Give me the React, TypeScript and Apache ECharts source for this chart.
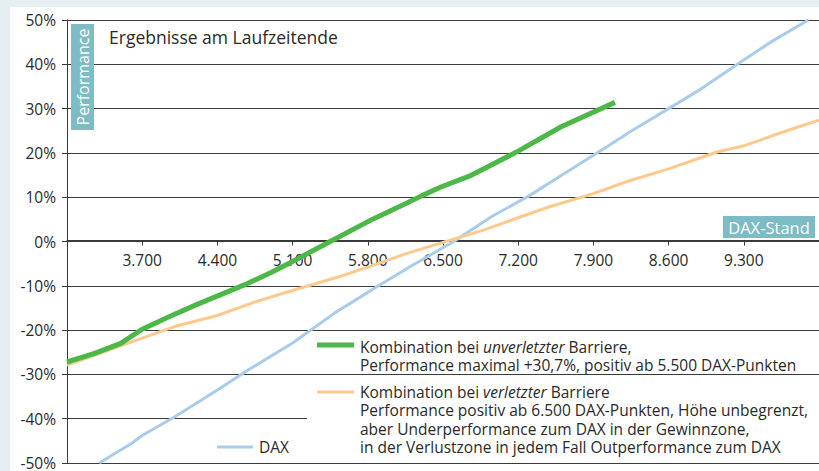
import React, { useEffect, useRef } from "react";
import * as echarts from "echarts";

// DAX level (x) vs. performance in % (y)
const unverletztData: [number, number][] = [
  [3000, -27.2], [3250, -25.3], [3500, -23.0], [3700, -19.8], [3950, -17.0],
  [4200, -14.3], [4420, -12.1], [4650, -9.8], [4900, -7.0], [5100, -4.5],
  [5450, 0.0], [5850, 5.1], [6150, 8.5], [6300, 10.3], [6480, 12.3],
  [6750, 14.8], [7200, 20.4], [7600, 25.9], [8100, 31.4],
];

const verletztData: [number, number][] = [
  [3000, -27.9], [3300, -25.3], [3700, -21.8], [4000, -19.2], [4400, -16.7],
  [4770, -13.5], [5230, -10.1], [5540, -7.9], [5800, -5.8], [6150, -2.8],
  [6500, -0.2], [6870, 2.5], [7190, 5.3], [7500, 7.9], [7900, 10.8],
  [8220, 13.6], [8600, 16.4], [9050, 20.2], [9300, 21.6], [9700, 25.0],
  [10000, 27.4],
];

const daxData: [number, number][] = [
  [3300, -50.0], [3600, -45.6], [3700, -43.8], [4000, -39.6], [4400, -33.5],
  [4700, -28.8], [5100, -22.9], [5500, -16.0], [5900, -10.0], [6200, -5.6],
  [6600, 0.0], [6950, 5.6], [7300, 10.3], [7700, 16.4], [8000, 21.0],
  [8250, 24.9], [8600, 30.0], [8900, 34.4], [9250, 40.2], [9550, 45.0],
  [9900, 50.0],
];

const xMin = 3000;
const xMax = 10000;
const xStep = 700;
const yMin = -50;
const yMax = 50;
const yStep = 10;

const titleText = "Ergebnisse am Laufzeitende";
const yAxisName = "Performance";
const xAxisName = "DAX-Stand";
const legendUnverletzt = [
  "Kombination bei {i|unverletzter} Barriere,",
  "Performance maximal +30,7%, positiv ab 5.500 DAX-Punkten",
];
const legendVerletzt = [
  "Kombination bei {i|verletzter} Barriere",
  "Performance positiv ab 6.500 DAX-Punkten, Höhe unbegrenzt,",
  "aber Underperformance zum DAX in der Gewinnzone,",
  "in der Verlustzone in jedem Fall Outperformance zum DAX",
];
const legendDax = "DAX";

const FONT = "'Open Sans', 'Noto Sans', sans-serif";
const GREEN = "#4cb848";
const ORANGE = "#fdc98c";
const BLUE = "#a9cced";
const TEAL = "#7dbbc5";
const TEXT = "#2a2a2a";
const LINE = "#3a3a3a";

// plot geometry
const GRID_TOP = 20;
const GRID_BOTTOM = 6;
const PLOT_H = 471 - GRID_TOP - GRID_BOTTOM;
const ZERO_OFFSET = -PLOT_H * ((0 - yMin) / (yMax - yMin));

const fmtThousands = (v: number) => {
  const s = Math.round(v).toString();
  return s.replace(/\B(?=(\d{3})+(?!\d))/g, ".");
};

export default function App() {
  const ref = useRef<HTMLDivElement>(null);

  useEffect(() => {
    if (!ref.current) return;
    const chart = echarts.init(ref.current, undefined, { renderer: "svg" });

    const LEG_FS = 15.5;
    const LEG_LH = 16;
    const richItalic = {
      i: {
        fontStyle: "italic",
        fontSize: LEG_FS,
        fontFamily: FONT,
        fill: TEXT,
        color: TEXT,
        lineHeight: LEG_LH,
      },
    };

    const legendTexts: any[] = [];
    legendUnverletzt.forEach((t, i) => {
      legendTexts.push({
        type: "text",
        x: 360,
        y: 347 + i * 18,
        z: 60,
        style: {
          text: t,
          fill: TEXT,
          font: `${LEG_FS}px ${FONT}`,
          lineHeight: LEG_LH,
          verticalAlign: "middle",
          rich: richItalic,
        },
      });
    });
    legendVerletzt.forEach((t, i) => {
      legendTexts.push({
        type: "text",
        x: 360,
        y: 392 + i * 18.3,
        z: 60,
        style: {
          text: t,
          fill: TEXT,
          font: `${LEG_FS}px ${FONT}`,
          lineHeight: LEG_LH,
          verticalAlign: "middle",
          rich: richItalic,
        },
      });
    });

    chart.setOption({
      animation: false,
      backgroundColor: "transparent",
      grid: { left: 67, right: 0, top: GRID_TOP, bottom: GRID_BOTTOM, containLabel: false },
      xAxis: {
        type: "value",
        min: xMin,
        max: xMax,
        interval: xStep,
        position: "bottom",
        offset: ZERO_OFFSET,
        axisLine: { show: true, onZero: false, lineStyle: { color: LINE, width: 1 } },
        axisTick: { show: true, length: 5, lineStyle: { color: LINE } },
        splitLine: { show: false },
        axisLabel: {
          showMinLabel: false,
          showMaxLabel: false,
          margin: 11,
          color: TEXT,
          fontSize: 15.5,
          fontFamily: FONT,
          formatter: (v: number) => (v <= xMin || v >= xMax ? "" : fmtThousands(v)),
        },
      },
      yAxis: {
        type: "value",
        min: yMin,
        max: yMax,
        interval: yStep,
        axisLine: { show: true, onZero: false, lineStyle: { color: LINE, width: 1 } },
        axisTick: { show: true, length: 5, lineStyle: { color: LINE } },
        splitLine: { show: true, lineStyle: { color: LINE, width: 1 } },
        axisLabel: {
          margin: 11,
          color: TEXT,
          fontSize: 15.5,
          fontFamily: FONT,
          formatter: (v: number) => `${v}%`,
        },
      },
      series: [
        {
          type: "line",
          data: daxData,
          showSymbol: false,
          lineStyle: { color: BLUE, width: 3 },
          z: 3,
        },
        {
          type: "line",
          data: verletztData,
          showSymbol: false,
          lineStyle: { color: ORANGE, width: 3 },
          z: 4,
        },
        {
          type: "line",
          data: unverletztData,
          showSymbol: false,
          lineStyle: { color: GREEN, width: 5, cap: "butt" },
          z: 5,
        },
      ],
      graphic: [
        // cover for part of the -40% gridline behind the legend
        {
          type: "rect",
          z: 50,
          shape: { x: 307, y: 379, width: 520, height: 83 },
          style: { fill: "#ffffff" },
        },
        {
          type: "rect",
          z: 50,
          shape: { x: 71, y: 24, width: 23, height: 106 },
          style: { fill: TEAL },
        },
        {
          type: "text",
          z: 51,
          x: 83,
          y: 77,
          rotation: Math.PI / 2,
          style: {
            text: yAxisName,
            fill: "#ffffff",
            font: `16px ${FONT}`,
            align: "center",
            verticalAlign: "middle",
          },
        },
        {
          type: "text",
          z: 51,
          x: 109,
          y: 37,
          style: {
            text: titleText,
            fill: TEXT,
            font: `17.5px ${FONT}`,
            verticalAlign: "middle",
          },
        },
        {
          type: "rect",
          z: 50,
          shape: { x: 723, y: 216, width: 92, height: 22 },
          style: { fill: TEAL },
        },
        {
          type: "text",
          z: 51,
          x: 769,
          y: 227,
          style: {
            text: xAxisName,
            fill: "#ffffff",
            font: `16.5px ${FONT}`,
            align: "center",
            verticalAlign: "middle",
          },
        },
        {
          type: "line",
          z: 60,
          shape: { x1: 317, y1: 345, x2: 354, y2: 345 },
          style: { stroke: GREEN, lineWidth: 5 },
        },
        {
          type: "line",
          z: 60,
          shape: { x1: 317, y1: 392, x2: 354, y2: 392 },
          style: { stroke: ORANGE, lineWidth: 3 },
        },
        {
          type: "line",
          z: 60,
          shape: { x1: 217, y1: 447, x2: 253, y2: 447 },
          style: { stroke: BLUE, lineWidth: 3 },
        },
        {
          type: "text",
          z: 60,
          x: 259,
          y: 447,
          style: {
            text: legendDax,
            fill: TEXT,
            font: `${LEG_FS}px ${FONT}`,
            verticalAlign: "middle",
          },
        },
        ...legendTexts,
      ],
    });

    return () => chart.dispose();
  }, []);

  return (
    <div
      style={{
        position: "fixed",
        left: 0,
        top: 0,
        width: 819,
        height: 471,
        background: "#e7eef1",
        overflow: "hidden",
      }}
    >
      <div
        style={{
          position: "absolute",
          left: 10,
          top: 7,
          right: 0,
          bottom: 0,
          background: "#ffffff",
        }}
      />
      <div
        ref={ref}
        style={{ position: "absolute", left: 0, top: 0, width: 819, height: 471 }}
      />
    </div>
  );
}
